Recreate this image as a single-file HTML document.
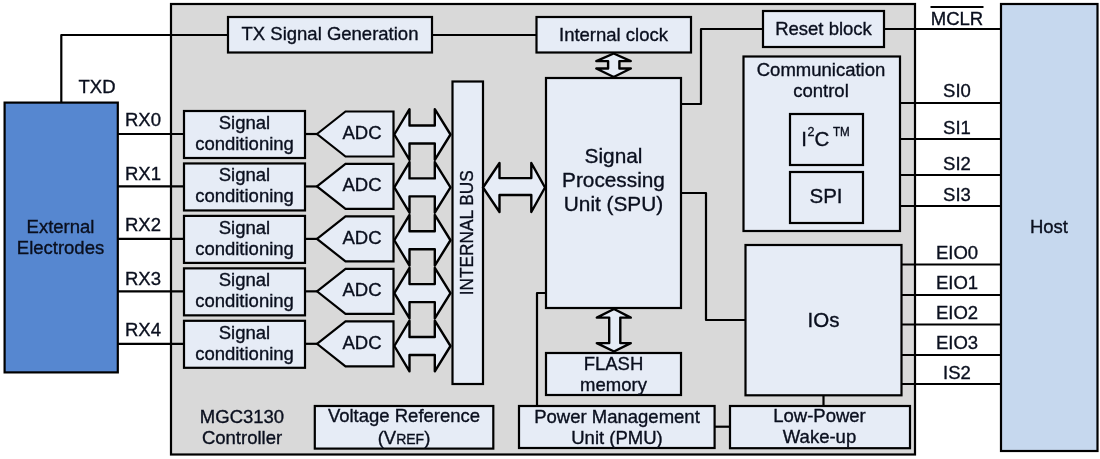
<!DOCTYPE html>
<html><head><meta charset="utf-8"><style>
html,body{margin:0;padding:0;background:#fff;width:1100px;height:459px;overflow:hidden}
svg{display:block;font-family:"Liberation Sans",sans-serif;fill:#0a0f1e}
text{fill:#0a0f1e;stroke:#0a0f1e;stroke-width:0.35px}
svg{will-change:transform}
</style></head><body>
<svg width="1100" height="459" viewBox="0 0 1100 459">
<rect x="171" y="4" width="744" height="450.5" fill="#d9d9d9" stroke="#000" stroke-width="2.2"/>
<rect x="4.6" y="102.6" width="113.2" height="269.8" fill="#5687d0" stroke="#000" stroke-width="2.2"/>
<rect x="1001" y="4" width="96.5" height="447" fill="#c6d8ee" stroke="#000" stroke-width="2.2"/>
<path d="M61.3 102 L61.3 35 L228 35" fill="none" stroke="#000" stroke-width="2.2" stroke-linejoin="round"/>
<path d="M432 35 L536.5 35" fill="none" stroke="#000" stroke-width="2.2" stroke-linejoin="round"/>
<path d="M681 104 L701 104 L701 29 L763 29" fill="none" stroke="#000" stroke-width="2.2" stroke-linejoin="round"/>
<path d="M884 29 L1001 29" fill="none" stroke="#000" stroke-width="2.2" stroke-linejoin="round"/>
<path d="M117.5 134 L184 134" fill="none" stroke="#000" stroke-width="2.2" stroke-linejoin="round"/>
<path d="M305 134 L317 134" fill="none" stroke="#000" stroke-width="2.2" stroke-linejoin="round"/>
<path d="M117.5 186.45 L184 186.45" fill="none" stroke="#000" stroke-width="2.2" stroke-linejoin="round"/>
<path d="M305 186.45 L317 186.45" fill="none" stroke="#000" stroke-width="2.2" stroke-linejoin="round"/>
<path d="M117.5 238.9 L184 238.9" fill="none" stroke="#000" stroke-width="2.2" stroke-linejoin="round"/>
<path d="M305 238.9 L317 238.9" fill="none" stroke="#000" stroke-width="2.2" stroke-linejoin="round"/>
<path d="M117.5 291.35 L184 291.35" fill="none" stroke="#000" stroke-width="2.2" stroke-linejoin="round"/>
<path d="M305 291.35 L317 291.35" fill="none" stroke="#000" stroke-width="2.2" stroke-linejoin="round"/>
<path d="M117.5 343.8 L184 343.8" fill="none" stroke="#000" stroke-width="2.2" stroke-linejoin="round"/>
<path d="M305 343.8 L317 343.8" fill="none" stroke="#000" stroke-width="2.2" stroke-linejoin="round"/>
<path d="M900 103 L1001 103" fill="none" stroke="#000" stroke-width="2.2" stroke-linejoin="round"/>
<path d="M900 139 L1001 139" fill="none" stroke="#000" stroke-width="2.2" stroke-linejoin="round"/>
<path d="M900 175 L1001 175" fill="none" stroke="#000" stroke-width="2.2" stroke-linejoin="round"/>
<path d="M900 206 L1001 206" fill="none" stroke="#000" stroke-width="2.2" stroke-linejoin="round"/>
<path d="M901.5 264.5 L1001 264.5" fill="none" stroke="#000" stroke-width="2.2" stroke-linejoin="round"/>
<path d="M901.5 295 L1001 295" fill="none" stroke="#000" stroke-width="2.2" stroke-linejoin="round"/>
<path d="M901.5 324.5 L1001 324.5" fill="none" stroke="#000" stroke-width="2.2" stroke-linejoin="round"/>
<path d="M901.5 355 L1001 355" fill="none" stroke="#000" stroke-width="2.2" stroke-linejoin="round"/>
<path d="M901.5 384 L1001 384" fill="none" stroke="#000" stroke-width="2.2" stroke-linejoin="round"/>
<path d="M681 193 L706 193 L706 320 L745.5 320" fill="none" stroke="#000" stroke-width="2.2" stroke-linejoin="round"/>
<path d="M546 293 L537 293 L537 405" fill="none" stroke="#000" stroke-width="2.2" stroke-linejoin="round"/>
<path d="M714.6 426.7 L730 426.7" fill="none" stroke="#000" stroke-width="2.2" stroke-linejoin="round"/>
<path d="M823.5 395 L823.5 405.5" fill="none" stroke="#000" stroke-width="2.2" stroke-linejoin="round"/>
<rect x="228" y="17" width="204" height="35.5" fill="#e6ecf6" stroke="#000" stroke-width="2.2"/>
<rect x="536.5" y="17" width="154.5" height="35.5" fill="#e6ecf6" stroke="#000" stroke-width="2.2"/>
<rect x="763" y="11" width="121" height="36" fill="#e6ecf6" stroke="#000" stroke-width="2.2"/>
<rect x="546" y="78" width="135" height="230" fill="#e6ecf6" stroke="#000" stroke-width="2.2"/>
<rect x="743.5" y="56.5" width="156.5" height="174.5" fill="#e6ecf6" stroke="#000" stroke-width="2.2"/>
<rect x="790" y="114" width="73" height="51" fill="#e6ecf6" stroke="#000" stroke-width="2.2"/>
<rect x="790" y="172" width="73" height="51" fill="#e6ecf6" stroke="#000" stroke-width="2.2"/>
<rect x="745.5" y="245" width="156" height="150.3" fill="#e6ecf6" stroke="#000" stroke-width="2.2"/>
<rect x="546" y="353" width="135" height="42" fill="#e6ecf6" stroke="#000" stroke-width="2.2"/>
<rect x="519" y="406" width="195.6" height="42" fill="#e6ecf6" stroke="#000" stroke-width="2.2"/>
<rect x="730" y="406" width="180" height="42.2" fill="#e6ecf6" stroke="#000" stroke-width="2.2"/>
<rect x="314.8" y="406" width="178.5" height="42.6" fill="#e6ecf6" stroke="#000" stroke-width="2.2"/>
<rect x="452.5" y="81.5" width="30.5" height="302.5" fill="#e6ecf6" stroke="#000" stroke-width="2.2"/>
<rect x="184" y="111" width="121" height="47" fill="#e6ecf6" stroke="#000" stroke-width="2.2"/>
<path d="M317 134 L345.5 111.5 L393.5 111.5 L393.5 156.5 L345.5 156.5 Z" fill="#e6ecf6" stroke="#000" stroke-width="2.2" stroke-linejoin="miter"/>
<rect x="184" y="163.45" width="121" height="47" fill="#e6ecf6" stroke="#000" stroke-width="2.2"/>
<path d="M317 186.45 L345.5 163.95 L393.5 163.95 L393.5 208.95 L345.5 208.95 Z" fill="#e6ecf6" stroke="#000" stroke-width="2.2" stroke-linejoin="miter"/>
<rect x="184" y="215.9" width="121" height="47" fill="#e6ecf6" stroke="#000" stroke-width="2.2"/>
<path d="M317 238.9 L345.5 216.4 L393.5 216.4 L393.5 261.4 L345.5 261.4 Z" fill="#e6ecf6" stroke="#000" stroke-width="2.2" stroke-linejoin="miter"/>
<rect x="184" y="268.35" width="121" height="47" fill="#e6ecf6" stroke="#000" stroke-width="2.2"/>
<path d="M317 291.35 L345.5 268.85 L393.5 268.85 L393.5 313.85 L345.5 313.85 Z" fill="#e6ecf6" stroke="#000" stroke-width="2.2" stroke-linejoin="miter"/>
<rect x="184" y="320.8" width="121" height="47" fill="#e6ecf6" stroke="#000" stroke-width="2.2"/>
<path d="M317 343.8 L345.5 321.3 L393.5 321.3 L393.5 366.3 L345.5 366.3 Z" fill="#e6ecf6" stroke="#000" stroke-width="2.2" stroke-linejoin="miter"/>
<path d="M394.3 134.5 L409.5 109.2 L409.5 125.5 L434.8 125.5 L434.8 109.2 L450.5 134.5 L434.8 159.8 L434.8 143.5 L409.5 143.5 L409.5 159.8 Z" fill="#e6ecf6" stroke="#000" stroke-width="2.4" stroke-linejoin="round"/>
<path d="M394.3 187.38 L409.5 162.07 L409.5 178.38 L434.8 178.38 L434.8 162.07 L450.5 187.38 L434.8 212.68 L434.8 196.38 L409.5 196.38 L409.5 212.68 Z" fill="#e6ecf6" stroke="#000" stroke-width="2.4" stroke-linejoin="round"/>
<path d="M394.3 240.25 L409.5 214.95 L409.5 231.25 L434.8 231.25 L434.8 214.95 L450.5 240.25 L434.8 265.55 L434.8 249.25 L409.5 249.25 L409.5 265.55 Z" fill="#e6ecf6" stroke="#000" stroke-width="2.4" stroke-linejoin="round"/>
<path d="M394.3 293.12 L409.5 267.82 L409.5 284.12 L434.8 284.12 L434.8 267.82 L450.5 293.12 L434.8 318.43 L434.8 302.12 L409.5 302.12 L409.5 318.43 Z" fill="#e6ecf6" stroke="#000" stroke-width="2.4" stroke-linejoin="round"/>
<path d="M394.3 346 L409.5 320.7 L409.5 337 L434.8 337 L434.8 320.7 L450.5 346 L434.8 371.3 L434.8 355 L409.5 355 L409.5 371.3 Z" fill="#e6ecf6" stroke="#000" stroke-width="2.4" stroke-linejoin="round"/>
<path d="M483 187.5 L499.5 163 L499.5 178.1 L531.3 178.1 L531.3 163 L545 187.5 L531.3 212 L531.3 195 L499.5 195 L499.5 212 Z" fill="#e6ecf6" stroke="#000" stroke-width="2.4" stroke-linejoin="round"/>
<path d="M613.7 53.5 L630.8 61.1 L619.4 61.1 L619.4 68.5 L630.8 68.5 L613.7 77 L596.3 68.5 L608.1 68.5 L608.1 61.1 L596.3 61.1 Z" fill="#e6ecf6" stroke="#000" stroke-width="2.4" stroke-linejoin="round"/>
<path d="M614 309 L630.8 317.6 L620.3 317.6 L620.3 343.1 L630.8 343.1 L614 351.5 L596.8 343.1 L609.2 343.1 L609.2 317.6 L596.8 317.6 Z" fill="#e6ecf6" stroke="#000" stroke-width="2.4" stroke-linejoin="round"/>
<text x="330" y="40.3" font-size="18.5" text-anchor="middle" >TX Signal Generation</text>
<text x="613.5" y="41" font-size="18.5" text-anchor="middle" >Internal clock</text>
<text x="823.5" y="35" font-size="18.5" text-anchor="middle" >Reset block</text>
<text x="97" y="93" font-size="18.5" text-anchor="middle" >TXD</text>
<text x="143" y="125.8" font-size="18.5" text-anchor="middle" >RX0</text>
<text x="244.5" y="129" font-size="18.5" text-anchor="middle" >Signal</text>
<text x="244.5" y="150" font-size="18.5" text-anchor="middle" >conditioning</text>
<text x="362" y="139" font-size="18.5" text-anchor="middle" >ADC</text>
<text x="143" y="180" font-size="18.5" text-anchor="middle" >RX1</text>
<text x="244.5" y="181.45" font-size="18.5" text-anchor="middle" >Signal</text>
<text x="244.5" y="202.45" font-size="18.5" text-anchor="middle" >conditioning</text>
<text x="362" y="191.45" font-size="18.5" text-anchor="middle" >ADC</text>
<text x="143" y="230.5" font-size="18.5" text-anchor="middle" >RX2</text>
<text x="244.5" y="233.9" font-size="18.5" text-anchor="middle" >Signal</text>
<text x="244.5" y="254.9" font-size="18.5" text-anchor="middle" >conditioning</text>
<text x="362" y="243.9" font-size="18.5" text-anchor="middle" >ADC</text>
<text x="143" y="285" font-size="18.5" text-anchor="middle" >RX3</text>
<text x="244.5" y="286.35" font-size="18.5" text-anchor="middle" >Signal</text>
<text x="244.5" y="307.35" font-size="18.5" text-anchor="middle" >conditioning</text>
<text x="362" y="296.35" font-size="18.5" text-anchor="middle" >ADC</text>
<text x="143" y="336.3" font-size="18.5" text-anchor="middle" >RX4</text>
<text x="244.5" y="338.8" font-size="18.5" text-anchor="middle" >Signal</text>
<text x="244.5" y="359.8" font-size="18.5" text-anchor="middle" >conditioning</text>
<text x="362" y="348.8" font-size="18.5" text-anchor="middle" >ADC</text>
<text x="60.5" y="233" font-size="18.5" text-anchor="middle" >External</text>
<text x="60.5" y="254" font-size="18.5" text-anchor="middle" >Electrodes</text>
<text x="1049" y="233" font-size="18.5" text-anchor="middle" >Host</text>
<text x="613.5" y="163" font-size="20.8" text-anchor="middle" >Signal</text>
<text x="613.5" y="187" font-size="20.8" text-anchor="middle" >Processing</text>
<text x="613.5" y="210.5" font-size="20.8" text-anchor="middle" >Unit (SPU)</text>
<text x="821" y="75.5" font-size="18.5" text-anchor="middle" >Communication</text>
<text x="821" y="96.5" font-size="18.5" text-anchor="middle" >control</text>
<text x="801.2" y="146" font-size="20.5" text-anchor="start" >I</text>
<text x="807.5" y="135.7" font-size="12.5" text-anchor="start" >2</text>
<text x="814.6" y="146" font-size="20.5" text-anchor="start" >C</text>
<text x="833" y="135.6" font-size="13" text-anchor="start" textLength="16.8" lengthAdjust="spacingAndGlyphs">TM</text>
<text x="826" y="203" font-size="20.5" text-anchor="middle" >SPI</text>
<text x="823.5" y="327" font-size="20.5" text-anchor="middle" >IOs</text>
<text x="613.5" y="370" font-size="18.5" text-anchor="middle" >FLASH</text>
<text x="613.5" y="391" font-size="18.5" text-anchor="middle" >memory</text>
<text x="617" y="423" font-size="18.5" text-anchor="middle" >Power Management</text>
<text x="617" y="444" font-size="18.5" text-anchor="middle" >Unit (PMU)</text>
<text x="819.5" y="422" font-size="18.5" text-anchor="middle" >Low-Power</text>
<text x="819.5" y="443" font-size="18.5" text-anchor="middle" >Wake-up</text>
<text x="404" y="422" font-size="18.5" text-anchor="middle" >Voltage Reference</text>
<text x="404" y="444" font-size="18.5" text-anchor="middle" >(V<tspan font-size="14">REF</tspan>)</text>
<text x="242" y="422.5" font-size="18.5" text-anchor="middle" >MGC3130</text>
<text x="242" y="444" font-size="18.5" text-anchor="middle" >Controller</text>
<text x="957" y="97" font-size="18.5" text-anchor="middle" >SI0</text>
<text x="957" y="133.5" font-size="18.5" text-anchor="middle" >SI1</text>
<text x="957" y="169.5" font-size="18.5" text-anchor="middle" >SI2</text>
<text x="957" y="200.5" font-size="18.5" text-anchor="middle" >SI3</text>
<text x="957" y="259" font-size="18.5" text-anchor="middle" >EIO0</text>
<text x="957" y="289" font-size="18.5" text-anchor="middle" >EIO1</text>
<text x="957" y="319" font-size="18.5" text-anchor="middle" >EIO2</text>
<text x="957" y="348.5" font-size="18.5" text-anchor="middle" >EIO3</text>
<text x="957" y="378.5" font-size="18.5" text-anchor="middle" >IS2</text>
<text x="957" y="25" font-size="18.5" text-anchor="middle" >MCLR</text>
<path d="M930.5 7 L983.5 7" fill="none" stroke="#000" stroke-width="2" stroke-linejoin="round"/>
<text x="0" y="0" font-size="18.5" text-anchor="middle" textLength="125" lengthAdjust="spacingAndGlyphs" transform="translate(473.1,232.8) rotate(-90)">INTERNAL BUS</text>
</svg></body></html>
